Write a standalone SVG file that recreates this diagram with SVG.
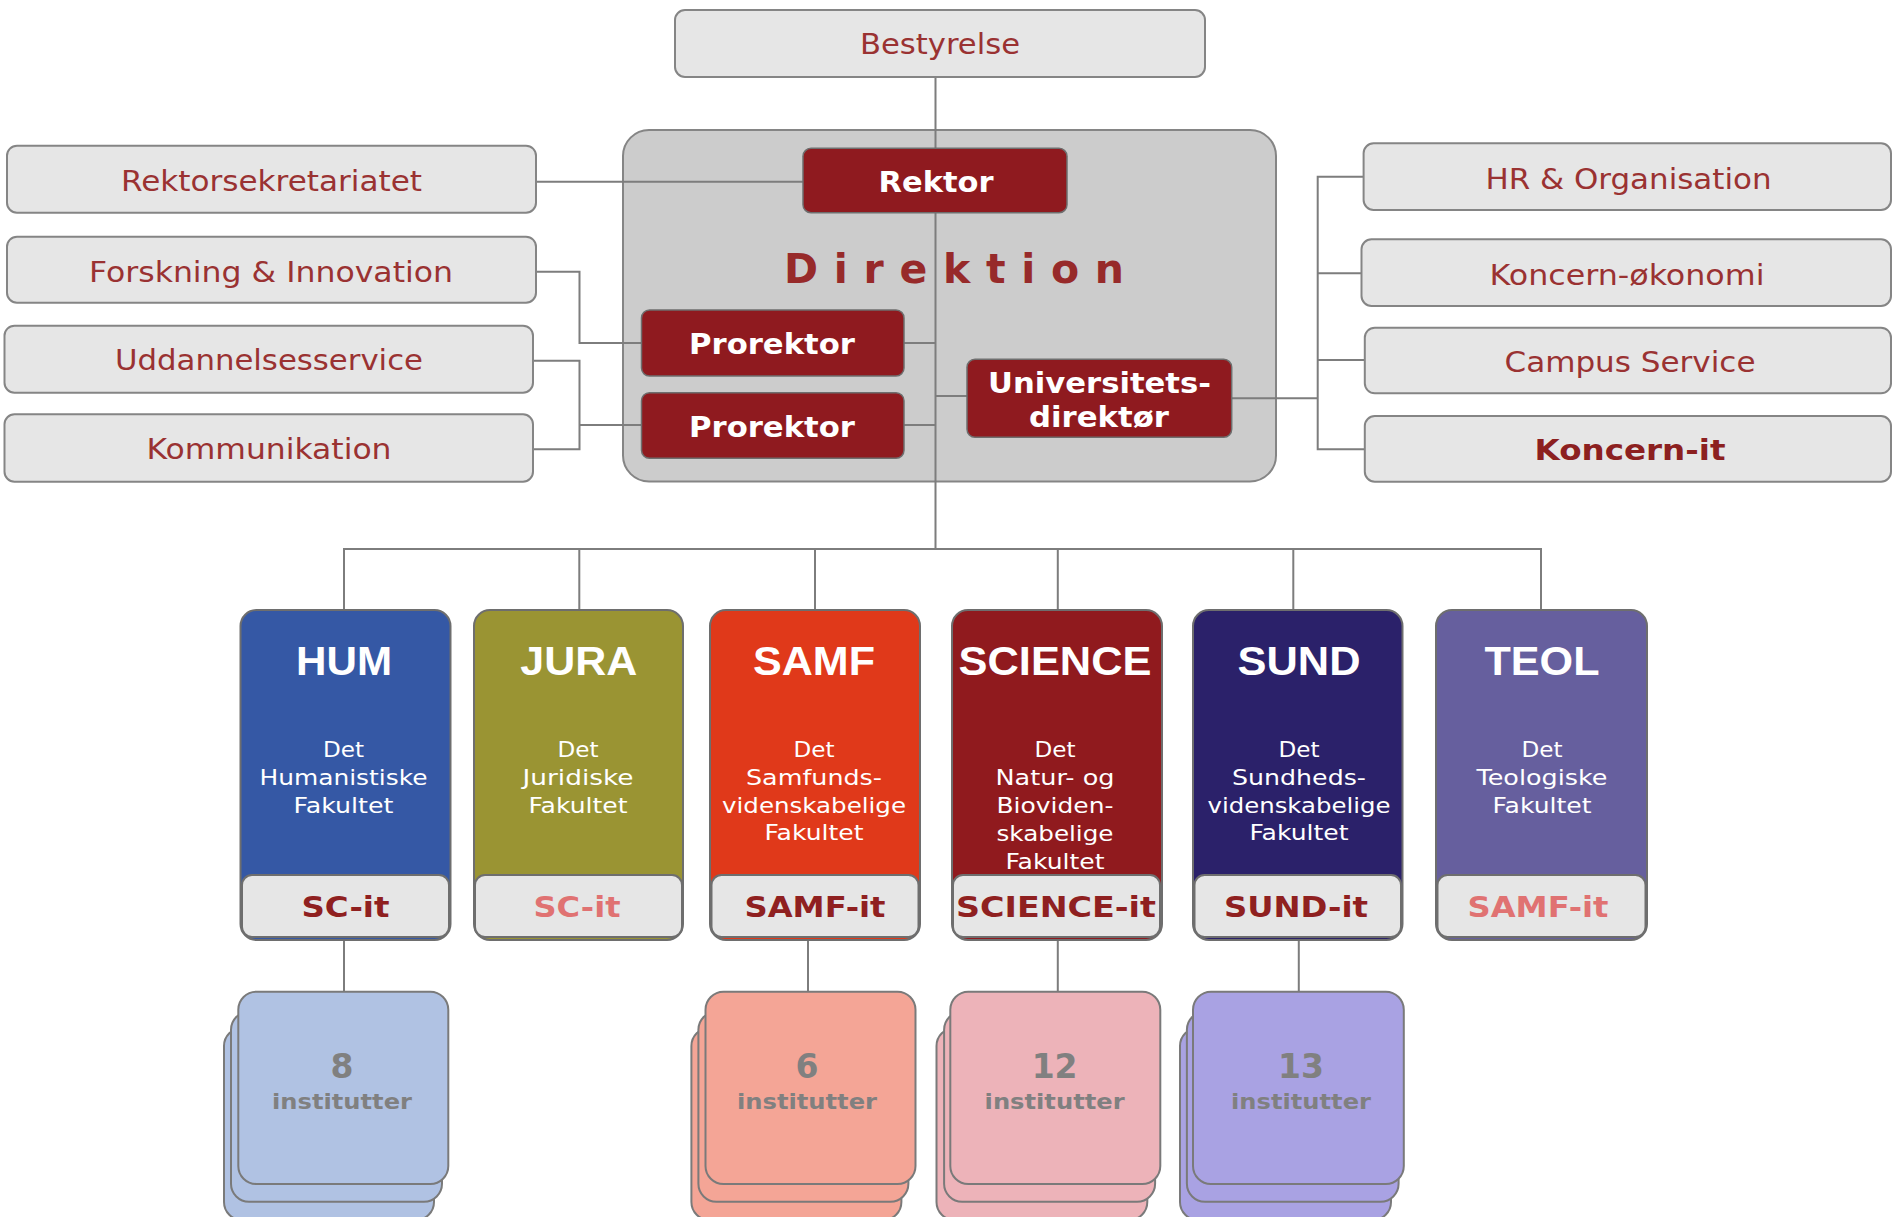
<svg xmlns="http://www.w3.org/2000/svg" width="1893" height="1217" viewBox="0 0 1893 1217">
<style>
.lb{fill:#e6e6e6;stroke:#858585;stroke-width:2}
.lt{font-family:"DejaVu Sans",Verdana,sans-serif;font-size:28px;fill:#9a3232;text-anchor:middle}
.dr{fill:#8f1a1f;stroke:#6e6e6e;stroke-width:1.5}
.wt{font-family:"DejaVu Sans",Verdana,sans-serif;font-weight:bold;font-size:28.5px;fill:#ffffff;text-anchor:middle}
.fac{stroke:#6e6e6e;stroke-width:2}
.ft{font-family:"Liberation Sans",Arial,sans-serif;font-weight:bold;font-size:40px;fill:#ffffff;text-anchor:middle}
.fd{font-family:"DejaVu Sans",Verdana,sans-serif;font-size:21.5px;fill:#ffffff;text-anchor:middle}
.itb{fill:#e6e6e6;stroke:#6e6e6e;stroke-width:2}
.it{font-family:"DejaVu Sans",Verdana,sans-serif;font-weight:bold;font-size:28px;text-anchor:middle}
.card{stroke:#7a7a7a;stroke-width:2}
.cn{font-family:"DejaVu Sans",Verdana,sans-serif;font-weight:bold;font-size:33px;fill:#808080;text-anchor:middle}
.ci{font-family:"DejaVu Sans",Verdana,sans-serif;font-weight:bold;font-size:22px;fill:#808080;text-anchor:middle}
.con{fill:none;stroke:#7d7d7d;stroke-width:2}
</style>
<rect width="1893" height="1217" fill="#ffffff"/>

<g id="direktion">
<rect x="623" y="130" width="653" height="351.5" rx="26" fill="#cccccc" stroke="#858585" stroke-width="2"/>
<text x="954" y="283" textLength="340" lengthAdjust="spacing" style="font-family:'DejaVu Sans',Verdana,sans-serif;font-weight:bold;font-size:41px;fill:#972a2a;text-anchor:middle">Direktion</text>
</g>

<g id="connectors" class="con">
<path d="M935.5,77 V550"/>
<path d="M536,181.7 H803"/>
<path d="M536,271.7 H579.5 V343 H641"/>
<path d="M533,360.7 H579.5 V449.3 H533 M579.5,425 H641"/>
<path d="M904,343 H935.5 M904,425 H935.5 M935.5,396 H967"/>
<path d="M1231.7,398.3 H1317.7"/>
<path d="M1363.6,176.7 H1317.7 V449.3 H1365 M1317.7,273.3 H1362 M1317.7,360 H1365"/>
<path d="M344,610 V549 H1541 V610 M579.3,549 V610 M815,549 V610 M1057.8,549 V610 M1293.3,549 V610"/>
<path d="M344,939 V992 M808,939 V992 M1057.8,939 V992 M1298.8,939 V992"/>
</g>

<g id="bestyrelse"><rect class="lb" x="675" y="10" width="530" height="67" rx="10"/><text class="lt" x="940" y="54" textLength="160" lengthAdjust="spacingAndGlyphs">Bestyrelse</text></g>
<g id="rektorsekretariatet"><rect class="lb" x="7" y="145.7" width="529" height="67" rx="10"/><text class="lt" x="271.5" y="190.7" textLength="301" lengthAdjust="spacingAndGlyphs">Rektorsekretariatet</text></g>
<g id="forskning"><rect class="lb" x="7" y="236.7" width="529" height="66" rx="10"/><text class="lt" x="271" y="281.7" textLength="364" lengthAdjust="spacingAndGlyphs">Forskning &amp; Innovation</text></g>
<g id="uddannelsesservice"><rect class="lb" x="4.5" y="325.7" width="528.5" height="67" rx="10"/><text class="lt" x="269" y="370" textLength="308" lengthAdjust="spacingAndGlyphs">Uddannelsesservice</text></g>
<g id="kommunikation"><rect class="lb" x="4.5" y="414.3" width="528.5" height="67.4" rx="10"/><text class="lt" x="269" y="459.3" textLength="245" lengthAdjust="spacingAndGlyphs">Kommunikation</text></g>

<g id="hr"><rect class="lb" x="1363.6" y="143.3" width="527.4" height="66.7" rx="10"/><text class="lt" x="1628.5" y="189.3" textLength="286" lengthAdjust="spacingAndGlyphs">HR &amp; Organisation</text></g>
<g id="koncern-okonomi"><rect class="lb" x="1361.5" y="239.3" width="529.5" height="66.7" rx="10"/><text class="lt" x="1627" y="285" textLength="275" lengthAdjust="spacingAndGlyphs">Koncern-økonomi</text></g>
<g id="campus-service"><rect class="lb" x="1364.8" y="327.7" width="526.2" height="65.6" rx="10"/><text class="lt" x="1630" y="371.7" textLength="251" lengthAdjust="spacingAndGlyphs">Campus Service</text></g>
<g id="koncern-it"><rect class="lb" x="1364.8" y="416" width="526.2" height="65.7" rx="10"/><text class="lt" x="1630" y="460" textLength="191" lengthAdjust="spacingAndGlyphs" style="font-weight:bold;fill:#8c2020">Koncern-it</text></g>

<g id="rektor"><rect class="dr" x="803" y="148.3" width="264" height="64.4" rx="8"/><text class="wt" x="936" y="191.7" textLength="115" lengthAdjust="spacingAndGlyphs">Rektor</text></g>
<g id="prorektor1"><rect class="dr" x="641.5" y="310" width="262.5" height="66" rx="8"/><text class="wt" x="772" y="354.3" textLength="166" lengthAdjust="spacingAndGlyphs">Prorektor</text></g>
<g id="prorektor2"><rect class="dr" x="641.5" y="392.7" width="262.5" height="65.6" rx="8"/><text class="wt" x="772" y="436.7" textLength="166" lengthAdjust="spacingAndGlyphs">Prorektor</text></g>
<g id="universitetsdirektor"><rect class="dr" x="967" y="359.3" width="264.7" height="78" rx="8"/><text class="wt" x="1099.5" y="393" textLength="223" lengthAdjust="spacingAndGlyphs">Universitets-</text><text class="wt" x="1099" y="426.7" textLength="140" lengthAdjust="spacingAndGlyphs">direktør</text></g>

<g id="hum">
<rect class="fac" x="240.5" y="610" width="210" height="330" rx="16" fill="#3558a5"/>
<text class="ft" x="344" y="675" textLength="96" lengthAdjust="spacingAndGlyphs">HUM</text>
<text class="fd" x="343.5" y="757" textLength="41" lengthAdjust="spacingAndGlyphs">Det</text>
<text class="fd" x="343.5" y="785" textLength="168" lengthAdjust="spacingAndGlyphs">Humanistiske</text>
<text class="fd" x="343.5" y="812.5" textLength="100" lengthAdjust="spacingAndGlyphs">Fakultet</text>
<rect class="itb" x="242" y="875" width="207" height="62" rx="10"/>
<text class="it" x="345.5" y="916.7" textLength="88" lengthAdjust="spacingAndGlyphs" fill="#8f2020">SC-it</text>
</g>
<g id="jura">
<rect class="fac" x="474" y="610" width="209" height="330" rx="16" fill="#9a9433"/>
<text class="ft" x="578.8" y="675" textLength="117" lengthAdjust="spacingAndGlyphs">JURA</text>
<text class="fd" x="578" y="757" textLength="41" lengthAdjust="spacingAndGlyphs">Det</text>
<text class="fd" x="578" y="785" textLength="111" lengthAdjust="spacingAndGlyphs">Juridiske</text>
<text class="fd" x="578" y="812.5" textLength="99" lengthAdjust="spacingAndGlyphs">Fakultet</text>
<rect class="itb" x="475" y="875" width="207" height="62" rx="10"/>
<text class="it" x="577" y="916.7" textLength="87" lengthAdjust="spacingAndGlyphs" fill="#e07272">SC-it</text>
</g>
<g id="samf">
<rect class="fac" x="710" y="610" width="210" height="330" rx="16" fill="#e0391a"/>
<text class="ft" x="814" y="675" textLength="122" lengthAdjust="spacingAndGlyphs">SAMF</text>
<text class="fd" x="814" y="757" textLength="41" lengthAdjust="spacingAndGlyphs">Det</text>
<text class="fd" x="814" y="785" textLength="136" lengthAdjust="spacingAndGlyphs">Samfunds-</text>
<text class="fd" x="814" y="812.5" textLength="184" lengthAdjust="spacingAndGlyphs">videnskabelige</text>
<text class="fd" x="814" y="840" textLength="99" lengthAdjust="spacingAndGlyphs">Fakultet</text>
<rect class="itb" x="711.5" y="875" width="207" height="62" rx="10"/>
<text class="it" x="815" y="916.7" textLength="141" lengthAdjust="spacingAndGlyphs" fill="#8f2020">SAMF-it</text>
</g>
<g id="science">
<rect class="fac" x="952" y="610" width="210" height="330" rx="16" fill="#901a1e"/>
<text class="ft" x="1055" y="675" textLength="193" lengthAdjust="spacingAndGlyphs">SCIENCE</text>
<text class="fd" x="1055" y="757" textLength="41" lengthAdjust="spacingAndGlyphs">Det</text>
<text class="fd" x="1055" y="785" textLength="119" lengthAdjust="spacingAndGlyphs">Natur- og</text>
<text class="fd" x="1055" y="813" textLength="117" lengthAdjust="spacingAndGlyphs">Bioviden-</text>
<text class="fd" x="1055" y="841" textLength="117" lengthAdjust="spacingAndGlyphs">skabelige</text>
<text class="fd" x="1055" y="869" textLength="99" lengthAdjust="spacingAndGlyphs">Fakultet</text>
<rect class="itb" x="953" y="875" width="207" height="62" rx="10"/>
<text class="it" x="1056" y="916.7" textLength="200" lengthAdjust="spacingAndGlyphs" fill="#8f2020">SCIENCE-it</text>
</g>
<g id="sund">
<rect class="fac" x="1193" y="610" width="209.5" height="330" rx="16" fill="#2b216a"/>
<text class="ft" x="1299" y="675" textLength="123" lengthAdjust="spacingAndGlyphs">SUND</text>
<text class="fd" x="1299" y="757" textLength="41" lengthAdjust="spacingAndGlyphs">Det</text>
<text class="fd" x="1299" y="785" textLength="134" lengthAdjust="spacingAndGlyphs">Sundheds-</text>
<text class="fd" x="1299" y="812.5" textLength="183" lengthAdjust="spacingAndGlyphs">videnskabelige</text>
<text class="fd" x="1299" y="840" textLength="99" lengthAdjust="spacingAndGlyphs">Fakultet</text>
<rect class="itb" x="1194.5" y="875" width="206.5" height="62" rx="10"/>
<text class="it" x="1296" y="916.7" textLength="144" lengthAdjust="spacingAndGlyphs" fill="#8f2020">SUND-it</text>
</g>
<g id="teol">
<rect class="fac" x="1436" y="610" width="211" height="330" rx="16" fill="#665f9e"/>
<text class="ft" x="1542" y="675" textLength="115" lengthAdjust="spacingAndGlyphs">TEOL</text>
<text class="fd" x="1542" y="757" textLength="41" lengthAdjust="spacingAndGlyphs">Det</text>
<text class="fd" x="1542" y="785" textLength="131" lengthAdjust="spacingAndGlyphs">Teologiske</text>
<text class="fd" x="1542" y="812.5" textLength="99" lengthAdjust="spacingAndGlyphs">Fakultet</text>
<rect class="itb" x="1437.5" y="875" width="208" height="62" rx="10"/>
<text class="it" x="1538" y="916.7" textLength="141" lengthAdjust="spacingAndGlyphs" fill="#e07272">SAMF-it</text>
</g>

<g id="hum-institutter" fill="#b0c2e3">
<rect class="card" x="224" y="1028" width="210" height="192" rx="18"/>
<rect class="card" x="231" y="1011.7" width="211" height="190" rx="18"/>
<rect class="card" x="238.3" y="991.7" width="210" height="192.3" rx="18"/>
<text class="cn" x="342" y="1078">8</text>
<text class="ci" x="342" y="1109" textLength="140" lengthAdjust="spacingAndGlyphs">institutter</text>
</g>
<g id="samf-institutter" fill="#f4a596">
<rect class="card" x="691.4" y="1028" width="210" height="192" rx="18"/>
<rect class="card" x="698.4" y="1011.7" width="210" height="190" rx="18"/>
<rect class="card" x="705.5" y="991.7" width="210" height="192.3" rx="18"/>
<text class="cn" x="807" y="1078">6</text>
<text class="ci" x="807" y="1109" textLength="140" lengthAdjust="spacingAndGlyphs">institutter</text>
</g>
<g id="science-institutter" fill="#edb3b9">
<rect class="card" x="936.5" y="1028" width="210.8" height="192" rx="18"/>
<rect class="card" x="944.1" y="1011.7" width="211" height="190" rx="18"/>
<rect class="card" x="950.3" y="991.7" width="210" height="192.3" rx="18"/>
<text class="cn" x="1054.6" y="1078">12</text>
<text class="ci" x="1054.6" y="1109" textLength="140" lengthAdjust="spacingAndGlyphs">institutter</text>
</g>
<g id="sund-institutter" fill="#a9a2e3">
<rect class="card" x="1180" y="1028" width="211" height="192" rx="18"/>
<rect class="card" x="1186.9" y="1011.7" width="211.7" height="190" rx="18"/>
<rect class="card" x="1193" y="991.7" width="210.8" height="192.3" rx="18"/>
<text class="cn" x="1301" y="1078">13</text>
<text class="ci" x="1301" y="1109" textLength="140" lengthAdjust="spacingAndGlyphs">institutter</text>
</g>
</svg>
